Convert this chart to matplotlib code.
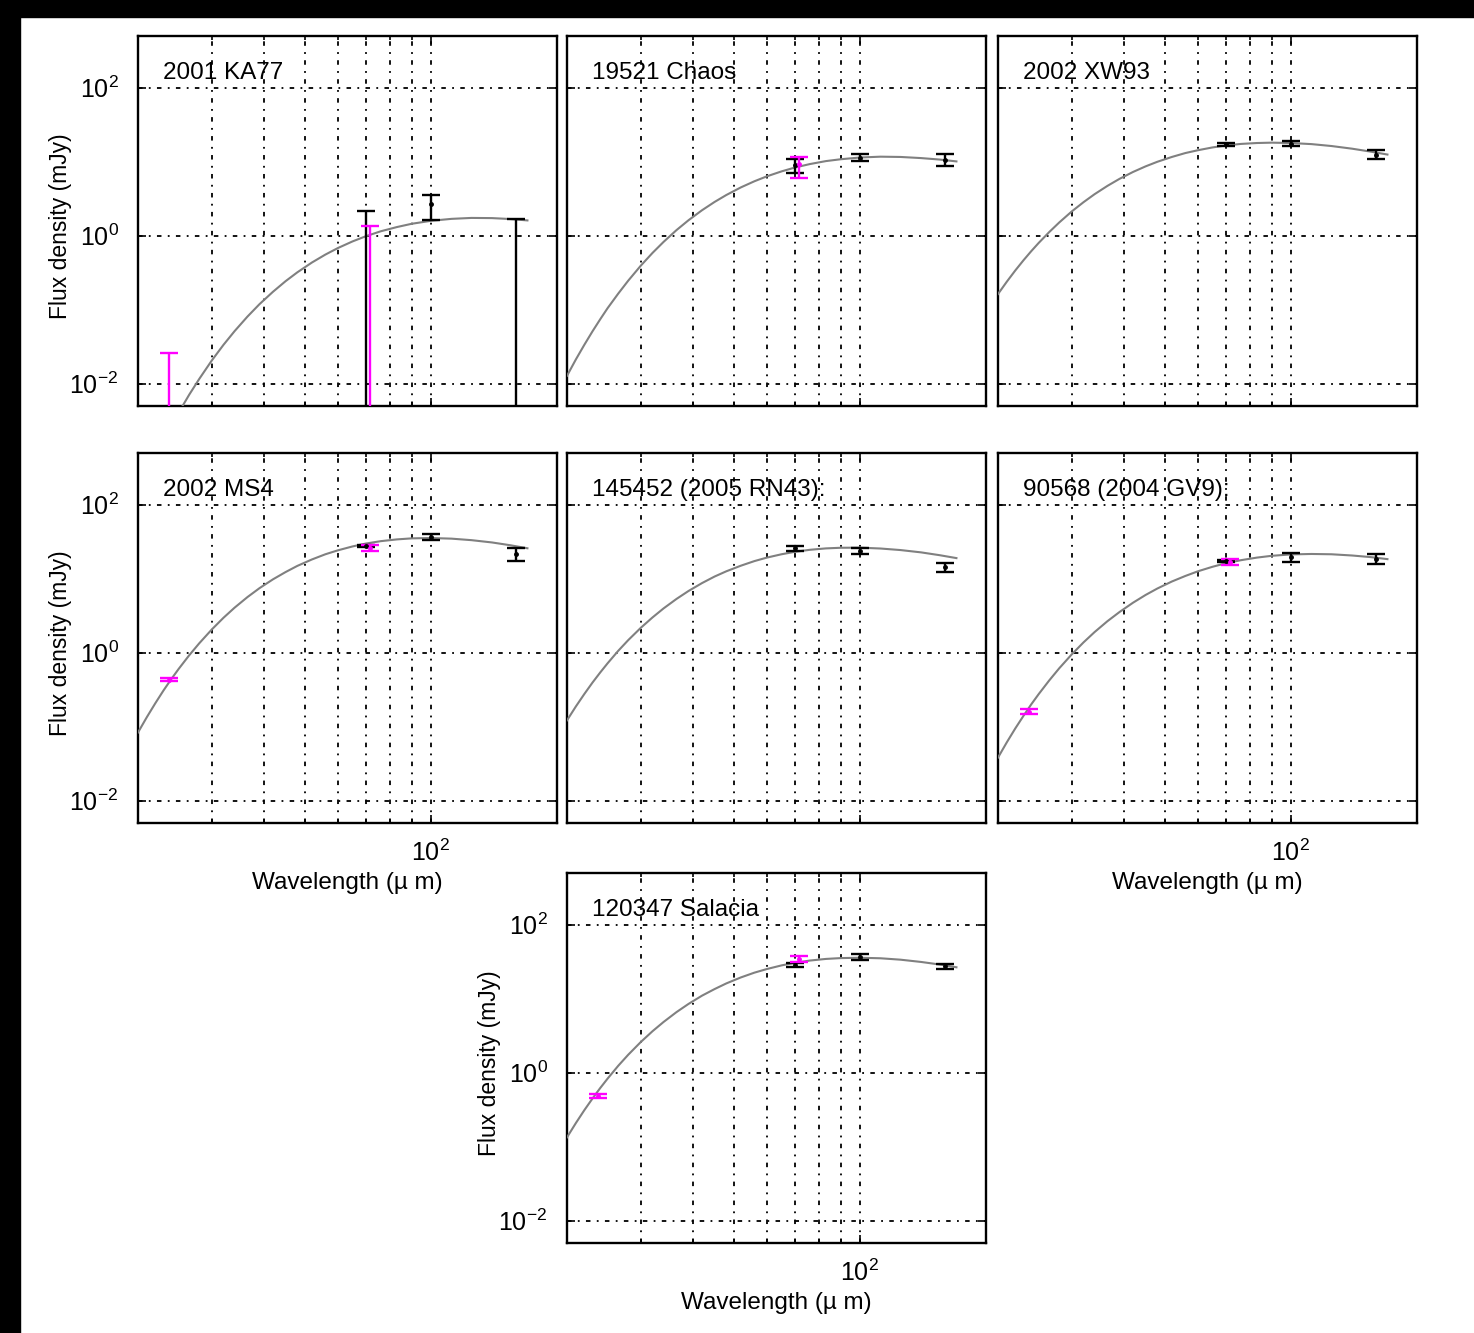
import numpy as np
import matplotlib
matplotlib.use("Agg")
import matplotlib.pyplot as plt
from matplotlib.ticker import FixedLocator, NullLocator, FixedFormatter, NullFormatter
from matplotlib.patches import Rectangle

plt.rcParams["font.family"] = ["Liberation Sans", "DejaVu Sans"]
plt.rcParams["mathtext.fontset"] = "custom"
plt.rcParams["mathtext.rm"] = "Liberation Sans"
plt.rcParams["mathtext.it"] = "Liberation Sans:italic"

nan = np.nan

# ---- objects -------------------------------------------------------------
names = ["2001 KA77", "19521 Chaos", "2002 XW93", "2002 MS4",
         "145452 (2005 RN43):", "90568 (2004 GV9):", "120347 Salacia"]

# ---- thermal model curves (mJy) -----------------------------------------
lam_model = [20, 21, 22, 23, 24, 25, 26.5, 28, 30, 32, 34, 36.5, 39, 42, 45,
             48, 52, 56, 60, 65, 70, 76, 83, 90, 100, 112, 125, 140, 155, 170]
lam_model_ka77 = lam_model[5:]

flux_model_ka77 = [0.00406, 0.00711, 0.0116, 0.0206, 0.0336, 0.0513, 0.0808,
                   0.119, 0.175, 0.243, 0.320, 0.434, 0.556, 0.682, 0.837,
                   0.986, 1.15, 1.31, 1.45, 1.59, 1.69, 1.74, 1.73, 1.68, 1.61]
flux_model_chaos = [0.0128, 0.0213, 0.0336, 0.0509, 0.0742, 0.105, 0.165,
                    0.247, 0.394, 0.586, 0.825, 1.19, 1.62, 2.21, 2.86, 3.55,
                    4.50, 5.44, 6.35, 7.40, 8.35, 9.30, 10.2, 10.8, 11.4, 11.7,
                    11.6, 11.2, 10.7, 10.1]
flux_model_xw93 = [0.163, 0.240, 0.340, 0.465, 0.617, 0.797, 1.12, 1.51, 2.13,
                   2.84, 3.64, 4.72, 5.87, 7.27, 8.65, 9.98, 11.6, 13.1, 14.3,
                   15.6, 16.6, 17.4, 17.9, 18.1, 17.9, 17.3, 16.3, 15.0, 13.7,
                   12.5]
flux_model_ms4 = [0.0836, 0.135, 0.208, 0.308, 0.438, 0.603, 0.924, 1.34, 2.06,
                  2.97, 4.06, 5.65, 7.46, 9.82, 12.3, 14.9, 18.2, 21.4, 24.2,
                  27.3, 29.9, 32.2, 34.0, 35.1, 35.5, 34.8, 33.2, 30.9, 28.3,
                  25.8]
flux_model_rn43 = [0.122, 0.188, 0.277, 0.394, 0.540, 0.720, 1.06, 1.48, 2.17,
                   3.00, 3.97, 5.33, 6.83, 8.73, 10.7, 12.6, 15.0, 17.3, 19.3,
                   21.4, 23.1, 24.6, 25.7, 26.2, 26.3, 25.6, 24.4, 22.7, 20.8,
                   19.0]
flux_model_gv9 = [0.0383, 0.0618, 0.0951, 0.140, 0.200, 0.275, 0.422, 0.616,
                  0.951, 1.38, 1.90, 2.67, 3.55, 4.74, 6.03, 7.37, 9.17, 10.9,
                  12.6, 14.5, 16.2, 17.8, 19.3, 20.4, 21.3, 21.6, 21.4, 20.6,
                  19.6, 18.4]
flux_model_salacia = [0.134, 0.209, 0.312, 0.447, 0.620, 0.833, 1.24, 1.75,
                      2.60, 3.64, 4.85, 6.59, 8.51, 11.0, 13.5, 16.1, 19.4, 22.5,
                      25.2, 28.2, 30.6, 32.8, 34.5, 35.4, 35.8, 35.2, 33.7, 31.4,
                      29.0, 26.6]

model_lam = [lam_model_ka77] + [lam_model] * 6
model_flux = [flux_model_ka77, flux_model_chaos, flux_model_xw93, flux_model_ms4,
              flux_model_rn43, flux_model_gv9, flux_model_salacia]

# ---- Herschel PACS photometry (black): flux, lower, upper bound ----------
pacs_lam = [70, 100, 160]
pacs_flux = [[nan, 2.65, nan],
             [8.9, 11.3, 10.5],
             [17.2, 17.6, 12.4],
             [27.4, 37.0, 21.6],
             [25.7, 24.0, 14.3],
             [17.3, 19.8, 18.6],
             [28.8, 36.6, 27.4]]
pacs_lo = [[0.0, 1.61, 0.0],
           [7.0, 10.1, 8.7],
           [16.5, 16.3, 10.8],
           [26.5, 33.7, 17.6],
           [23.6, 21.9, 12.3],
           [16.6, 17.0, 15.6],
           [26.8, 33.0, 25.4]]
pacs_hi = [[2.15, 3.5, 1.66],
           [11.0, 12.6, 12.6],
           [17.9, 19.1, 14.3],
           [28.3, 40.2, 26.0],
           [27.5, 26.3, 16.4],
           [18.0, 22.5, 21.9],
           [30.6, 40.6, 29.1]]

# ---- Spitzer MIPS photometry (magenta) -----------------------------------
mips_lam = [23.68, 71.42]
mips_flux = [[nan, nan],
             [nan, 9.4],
             [nan, nan],
             [0.43, 26.0],
             [nan, nan],
             [0.16, 17.0],
             [0.49, 34.4]]
mips_lo = [[0.0, 0.0],
           [nan, 6.1],
           [nan, nan],
           [0.41, 24.0],
           [nan, nan],
           [0.147, 15.3],
           [0.46, 31.3]]
mips_hi = [[0.026, 1.37],
           [nan, 11.6],
           [nan, nan],
           [0.45, 28.9],
           [nan, nan],
           [0.171, 18.6],
           [0.52, 37.7]]

x_ticks = [100]
x_tick_labels = [r"$10^{2}$"]
y_ticks = [1e-2, 1e0, 1e2]
y_tick_labels = [r"$10^{-2}$", r"$10^{0}$", r"$10^{2}$"]
x_minor = [30, 40, 50, 60, 70, 80, 90]

# ---- figure layout (pixels) ----------------------------------------------
W, H = 1474, 1333
fig = plt.figure(figsize=(W / 100, H / 100), dpi=100)
fig.patches.append(Rectangle((0, 1 - 17 / H), 1, 17 / H, transform=fig.transFigure,
                             color="black", zorder=10))
fig.patches.append(Rectangle((0, 0), 20 / W, 1, transform=fig.transFigure,
                             color="black", zorder=10))

pw, ph = 419, 370
slots = [(138, 36), (567, 36), (998, 36),
         (138, 453), (567, 453), (998, 453),
         (567, 873)]
show_y = [True, False, False, True, False, False, True]
show_x = [False, False, False, True, False, True, True]

grid_style = dict(color="black", linestyle=(0, (2.5, 3.5, 1.0, 3.5)), linewidth=1.3)
MAG = "#ff00ff"


def draw_bar(ax, lam, flux, lo, hi, color):
    if np.isnan(hi):
        return
    floor = 1e-6
    lo = max(lo, floor) if not np.isnan(lo) else floor
    y = flux if not np.isnan(flux) else hi
    ax.errorbar([lam], [y], yerr=[[y - lo], [hi - y]], fmt="none", ecolor=color,
                elinewidth=1.7, capsize=6.5, capthick=1.7, zorder=4)
    if not np.isnan(flux):
        ax.plot([lam], [flux], marker=".", color=color, markersize=5, zorder=5)


for i, name in enumerate(names):
    x0, y0 = slots[i]
    ax = fig.add_axes([x0 / W, 1 - (y0 + ph) / H, pw / W, ph / H])
    ax.set_xscale("log")
    ax.set_yscale("log")
    ax.set_xlim(20, 200)
    ax.set_ylim(5e-3, 500)

    ax.plot(model_lam[i], model_flux[i], color="#808080", linewidth=1.5,
            solid_joinstyle="round", zorder=3)

    for j, lam in enumerate(pacs_lam):
        draw_bar(ax, lam, pacs_flux[i][j], pacs_lo[i][j], pacs_hi[i][j], "black")
    for j, lam in enumerate(mips_lam):
        draw_bar(ax, lam, mips_flux[i][j], mips_lo[i][j], mips_hi[i][j], MAG)

    ax.xaxis.set_major_locator(FixedLocator(x_ticks))
    ax.xaxis.set_major_formatter(FixedFormatter(x_tick_labels))
    ax.xaxis.set_minor_locator(FixedLocator(x_minor))
    ax.xaxis.set_minor_formatter(NullFormatter())
    ax.yaxis.set_major_locator(FixedLocator(y_ticks))
    ax.yaxis.set_major_formatter(FixedFormatter(y_tick_labels))
    ax.yaxis.set_minor_locator(NullLocator())

    ax.grid(True, which="major", axis="both", **grid_style)
    ax.grid(True, which="minor", axis="x", **grid_style)
    ax.set_axisbelow(True)

    ax.tick_params(which="both", direction="in", top=True, right=True,
                   labelsize=18, width=1.2)
    ax.tick_params(which="major", length=6)
    ax.tick_params(axis="y", which="major", pad=14)
    ax.tick_params(axis="x", which="major", pad=12)
    ax.tick_params(which="minor", length=3)
    ax.tick_params(axis="y", labelleft=show_y[i])
    ax.tick_params(axis="x", labelbottom=show_x[i])
    for s in ax.spines.values():
        s.set_linewidth(1.7)

    if show_y[i]:
        ax.set_ylabel("Flux density (mJy)", fontsize=16.5)
        ax.yaxis.set_label_coords(-0.158, 0.485)
    if show_x[i]:
        ax.set_xlabel("Wavelength (\u00b5 m)", fontsize=17.5, labelpad=4)

    ax.text(0.06, 0.9, name, transform=ax.transAxes, fontsize=17.5,
            ha="left", va="center", zorder=6)

fig.savefig("out.png", dpi=100, facecolor="white")
